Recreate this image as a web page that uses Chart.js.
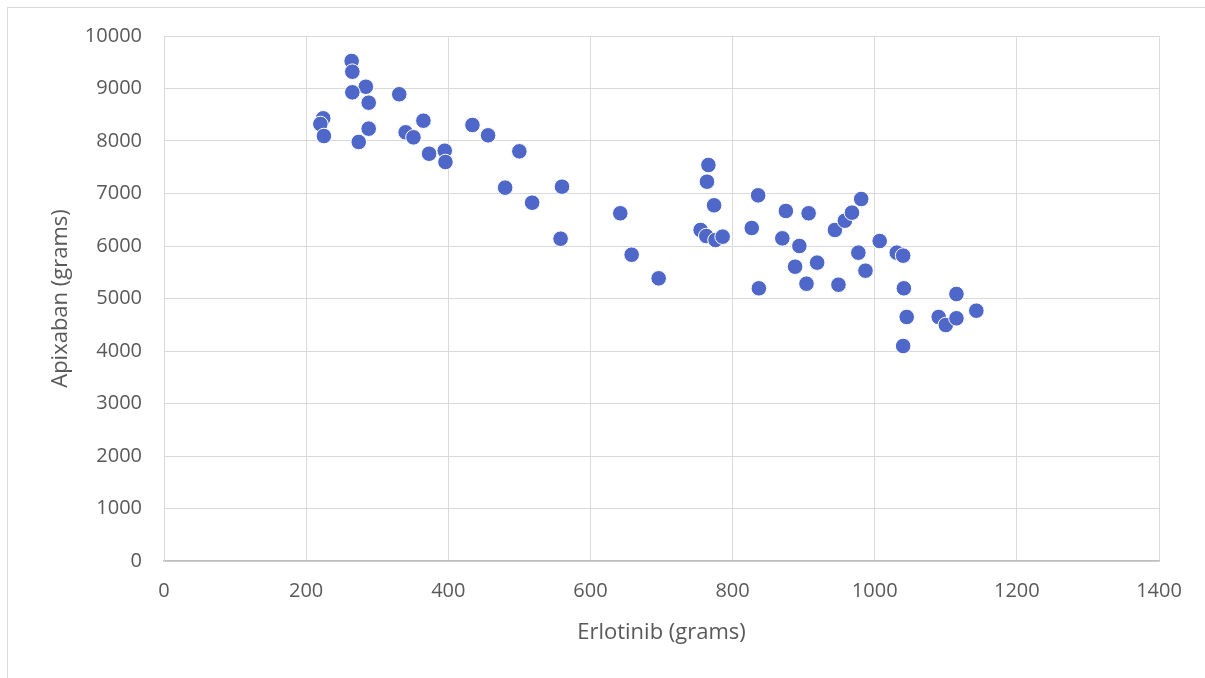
<!DOCTYPE html>
<html>
<head>
<meta charset="utf-8">
<script src="https://cdn.jsdelivr.net/npm/chart.js@4/dist/chart.umd.min.js"></script>
<style>
  body { margin: 0; background: #fff; overflow: hidden; }
  .frame { position: absolute; left: 7px; top: 7px; width: 1210px; height: 700px; border: 1px solid #d9d9d9; }
  .wrap { position: absolute; left: 0; top: 0; width: 1205px; height: 678px; }
</style>
</head>
<body>
<div class="frame"></div>
<div class="wrap"><canvas id="chart"></canvas></div>
<script>
// Erlotinib (x) vs Apixaban (y), both in grams
const erlotinib = [
  264, 265, 284, 265, 288, 331, 224, 220, 225, 288, 274, 365, 340, 351, 373, 395, 396, 434, 456, 500, 480, 560, 518, 558,
  642, 658, 696, 766, 764, 774, 755, 763, 776, 786, 836, 827, 875, 907, 870, 894, 888, 919, 904, 837, 949, 944, 958, 968, 981, 977, 987, 1007,
  1031, 1040, 1041, 1045, 1040, 1115, 1090, 1100, 1115, 1143
];
const apixaban = [
  9524, 9320, 9034, 8927, 8730, 8890, 8432, 8324, 8095, 8235, 7981, 8387, 8165, 8070, 7758, 7815, 7600, 8305, 8108, 7803, 7111, 7130, 6825, 6139,
  6623, 5834, 5384, 7543, 7225, 6775, 6305, 6190, 6114, 6178, 6965, 6343, 6667, 6623, 6146, 6000, 5606, 5683, 5282, 5194, 5263, 6305, 6482, 6635, 6895, 5873, 5530, 6095,
  5873, 5816, 5194, 4648, 4095, 5086, 4648, 4495, 4623, 4768
];
const xTicks = [0, 200, 400, 600, 800, 1000, 1200, 1400];
const yTicks = [0, 1000, 2000, 3000, 4000, 5000, 6000, 7000, 8000, 9000, 10000];

const points = erlotinib.map((x, i) => ({ x: x, y: apixaban[i] }));

new Chart(document.getElementById('chart'), {
  type: 'scatter',
  data: {
    datasets: [{
      data: points,
      backgroundColor: '#4e67c8',
      borderColor: '#ffffff',
      borderWidth: 1,
      pointRadius: 7.8,
      pointHoverRadius: 7.8
    }]
  },
  options: {
    responsive: true,
    maintainAspectRatio: false,
    animation: false,
    layout: { padding: { top: 36, right: 46, left: 0, bottom: 0 } },
    plugins: { legend: { display: false }, tooltip: { enabled: false } },
    scales: {
      x: {
        type: 'linear',
        min: 0, max: 1400,
        afterBuildTicks: (s) => { s.ticks = xTicks.map(v => ({ value: v })); },
        afterFit: (s) => { s.height = 117; },
        grid: { color: '#d9d9d9', lineWidth: 1, drawTicks: false },
        border: { color: '#bfbfbf', width: 1.5 },
        ticks: { color: '#595959', padding: 18, font: { family: 'Open Sans', size: 20 }, callback: (v) => String(v) },
        title: {
          display: true, text: 'Erlotinib (grams)', color: '#595959',
          font: { family: 'Open Sans', size: 22 }, padding: { top: 0, bottom: 32 }
        }
      },
      y: {
        type: 'linear',
        min: 0, max: 10000,
        afterBuildTicks: (s) => { s.ticks = yTicks.map(v => ({ value: v })); },
        afterFit: (s) => { s.width = 164; },
        grid: { color: '#d9d9d9', lineWidth: 1, drawTicks: false },
        border: { color: '#d9d9d9', width: 1 },
        ticks: { color: '#595959', padding: 22, font: { family: 'Open Sans', size: 20 }, callback: (v) => String(v) },
        title: {
          display: true, text: 'Apixaban (grams)', color: '#595959',
          font: { family: 'Open Sans', size: 22 }, padding: { top: 48, bottom: 0 }
        }
      }
    }
  }
});
</script>
</body>
</html>
